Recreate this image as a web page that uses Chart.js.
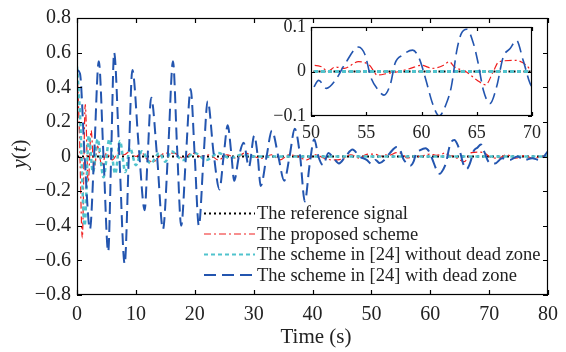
<!DOCTYPE html>
<html>
<head>
<meta charset="utf-8">
<script src="https://cdn.jsdelivr.net/npm/chart.js@4.4.1/dist/chart.umd.min.js"></script>
<style>
  body { margin: 0; background: #fff; }
  #wrap { position: relative; width: 566px; height: 352px; }
  #main { position: absolute; left: 0; top: 0; }
  #inset { position: absolute; left: 262px; top: 8px; }
</style>
</head>
<body>
<div id="wrap">
  <canvas id="main" width="566" height="352"></canvas>
  <canvas id="inset" width="290" height="140"></canvas>
</div>
<script>
// --- data ---
const labels = [
  'The reference signal',
  'The proposed scheme',
  'The scheme in [24] without dead zone',
  'The scheme in [24] with dead zone'
];

const refT = [0, 80];
const refY = [0, 0];

const propT = [0, 0.4, 0.9, 1.4, 1.9, 2.4, 2.9, 3.5, 4.2, 5, 6, 7, 8, 9, 10, 11, 12, 13, 14, 15,
  16.5, 18, 19.5, 21, 22.5, 24, 25.5, 27, 28.5, 30, 31.5, 33, 34.5, 36, 37.5, 39, 40.5, 42,
  43.5, 45, 46.5, 48, 49, 50, 51, 51.5, 52.2, 53, 54.3, 55.3, 56, 57, 58, 59, 60, 61, 62,
  62.5, 63, 64, 65, 65.8, 66.5, 67, 68.5, 69.5, 70, 71.5, 73, 74.5, 76, 77.5, 79, 80];
const propY = [0.52, 0.15, -0.47, 0.30, -0.15, 0.15, -0.08, 0.06, -0.05, 0.02, -0.02, 0.02, 0.01,
  0.03, 0, 0.02, -0.02, -0.03, 0, 0.02, 0.02, -0.01, 0.02, 0, 0.01, -0.02, 0.01, -0.01, 0.02,
  0, -0.01, 0.01, -0.02, 0.01, 0, -0.02, 0.01, -0.01, -0.02, -0.015, 0.01, -0.01, 0.01, 0.014,
  0.01, 0, 0.01, 0.007, 0.022, 0.014, -0.008, -0.004, 0, 0.007, 0.014, 0.007, 0.014, 0.022,
  0.01, 0, -0.019, -0.03, 0, 0.022, 0.025, 0.014, 0, -0.01, 0.01, -0.01, 0.005, -0.01, 0, -0.005];

const noDzT = [0, 0.5, 1.3, 2, 2.7, 3.5, 4.5, 5.5, 6.5, 7.3, 8.2, 9, 10, 11, 12.5, 14, 15, 16,
  18, 20, 22, 24, 26, 28, 30, 80];
const noDzY = [0.52, 0.25, -0.40, 0.12, -0.09, 0.10, -0.12, 0.10, -0.10, 0.09, -0.09, 0.05,
  -0.05, 0.03, -0.04, 0.02, -0.03, 0.03, -0.02, 0.02, -0.02, 0.02, -0.01, 0.01, 0, 0];

const dzT = [0, 0.5, 1.3, 2.2, 2.9, 3.7, 4.5, 5.3, 5.8, 6.3, 7.2, 8.1, 8.8, 9.4, 10.5, 11.5,
  12, 12.6, 13.6, 14.6, 15.5, 16.3, 17, 17.7, 18.5, 19.3, 20, 20.7, 21.5, 22.2, 23.2, 24.2,
  24.9, 25.6, 26.2, 26.7, 27.5, 28.3, 29.2, 30.1, 30.7, 31.2, 32.2, 33.1, 34.2, 35.2, 36.1,
  37, 37.9, 38.7, 39.5, 40.3, 41, 41.8, 42.7, 43.6, 44.5, 45.6, 46.8, 48, 49.2,
  50, 50.7, 51.4, 52.2, 53.1, 54.3, 54.9, 55.4, 56.1, 56.6, 57.2, 57.6, 58.3, 59.2, 59.8,
  60.4, 61, 61.6, 62.2, 62.7, 63.2, 63.6, 64.1, 64.7, 65.1, 65.6, 66.2, 66.8, 67.4, 68,
  68.6, 69.2, 70, 71, 72.2, 73.5, 74.8, 76, 77.3, 78.6, 80];
const dzY = [0.50, 0.48, 0, -0.42, 0, 0.55, 0, -0.55, 0, 0.60, 0, -0.62, 0, 0.50, 0.05, -0.31,
  0, 0.34, 0, -0.42, 0.05, 0.55, 0.05, -0.40, 0, 0.39, 0, -0.40, 0, 0.32, 0.02, -0.19,
  0, 0.18, 0.02, -0.14, 0, 0.08, -0.06, 0.12, 0, -0.17, 0, 0.15, 0, -0.14, 0,
  0.16, 0, -0.26, -0.05, 0.10, 0, -0.05, 0.02, -0.01, -0.04, 0, 0.04, 0, -0.02,
  -0.042, -0.02, -0.038, -0.02, 0.018, 0.055, 0.037, -0.012, -0.042, -0.053, -0.027, 0.018,
  0.037, 0.048, 0.029, -0.019, -0.072, -0.1, -0.075, -0.034, 0.048, 0.085, 0.095, 0.063,
  0.022, -0.042, -0.072, -0.034, 0.033, 0.051, 0.07, 0.025, -0.034, -0.04, -0.01, -0.02,
  0, -0.02, -0.01, -0.02, 0.03];

const xTicksMain = [0, 10, 20, 30, 40, 50, 60, 70, 80];
const yTicksMain = [-0.8, -0.6, -0.4, -0.2, 0, 0.2, 0.4, 0.6, 0.8];
const xTicksInset = [50, 55, 60, 65, 70];
const yTicksInset = [-0.1, 0, 0.1];

const SERIF = '"Liberation Serif", "Times New Roman", serif';
Chart.defaults.font.family = SERIF;
Chart.defaults.color = '#222';

function pts(t, y) {
  return t.map((v, i) => ({ x: v, y: y[i] }));
}

// y labels: 0.8, 0, −0.2 ...
function fmtY(v) {
  if (Math.abs(v) < 1e-9) return '0';
  return v.toFixed(1).replace('-', '\u2212');
}
function fmtX(v) {
  return String(Math.round(v));
}

function makeDatasets(inset) {
  return [
    { label: labels[0], data: pts(refT, refY), borderColor: '#000', borderWidth: 2.2,
      borderDash: [2, 3], order: 4 },
    { label: labels[1], data: pts(propT, propY), borderColor: 'rgb(240,30,30)',
      borderWidth: 1.2, borderDash: [7, 3, 2, 3], order: 3 },
    { label: labels[2], data: pts(noDzT, noDzY), borderColor: 'rgb(80,195,205)',
      borderWidth: inset ? 3 : 2.5, borderDash: [4, 3], order: 2 },
    { label: labels[3], data: pts(dzT, dzY), borderColor: 'rgb(35,85,175)',
      borderWidth: inset ? 1.6 : 2, borderDash: [12, 6], order: 1 }
  ];
}

// MATLAB-like box with inward ticks on all four sides
const boxTicks = {
  id: 'boxTicks',
  beforeDraw(chart, args, opts) {
    if (!opts.fill) return;
    const a = chart.chartArea, ctx = chart.ctx;
    ctx.save();
    ctx.fillStyle = '#fff';
    ctx.fillRect(a.left, a.top, a.right - a.left, a.bottom - a.top);
    ctx.restore();
  },
  afterDraw(chart, args, opts) {
    const { ctx, chartArea: a, scales: { x, y } } = chart;
    const len = opts.len || 5;
    ctx.save();
    ctx.strokeStyle = '#000';
    ctx.lineWidth = 1.2;
    ctx.beginPath();
    x.ticks.forEach(t => {
      const px = Math.round(x.getPixelForValue(t.value)) + 0.5;
      ctx.moveTo(px, a.bottom); ctx.lineTo(px, a.bottom - len);
      ctx.moveTo(px, a.top); ctx.lineTo(px, a.top + len);
    });
    y.ticks.forEach(t => {
      const py = Math.round(y.getPixelForValue(t.value)) + 0.5;
      ctx.moveTo(a.left, py); ctx.lineTo(a.left + len, py);
      ctx.moveTo(a.right, py); ctx.lineTo(a.right - len, py);
    });
    ctx.stroke();
    ctx.strokeRect(a.left + 0.5, a.top + 0.5, a.right - a.left - 1, a.bottom - a.top - 1);
    ctx.restore();
  }
};

// legend without box, drawn inside the plot
const plotLegend = {
  id: 'plotLegend',
  afterDatasetsDraw(chart, args, opts) {
    const ctx = chart.ctx;
    ctx.save();
    ctx.font = opts.font;
    ctx.textBaseline = 'middle';
    ctx.fillStyle = '#222';
    chart.data.datasets.forEach((ds, i) => {
      const yy = opts.rows[i];
      ctx.strokeStyle = ds.borderColor;
      ctx.lineWidth = Math.min(ds.borderWidth, 2);
      ctx.setLineDash(ds.borderDash || []);
      ctx.beginPath();
      ctx.moveTo(opts.x0, yy);
      ctx.lineTo(opts.x1, yy);
      ctx.stroke();
      ctx.fillText(ds.label, opts.x1 + 2, yy + 1);
    });
    ctx.restore();
  }
};

// axis titles, y(t) with italic letters
const axisTitles = {
  id: 'axisTitles',
  afterDraw(chart) {
    const ctx = chart.ctx;
    ctx.save();
    ctx.fillStyle = '#222';
    ctx.textBaseline = 'middle';
    ctx.textAlign = 'center';
    ctx.font = '21px ' + SERIF;
    ctx.fillText('Time (s)', 316, 337);

    const parts = [['y', 'italic '], ['(', ''], ['t', 'italic '], [')', '']];
    let w = 0;
    parts.forEach(p => { ctx.font = p[1] + '21px ' + SERIF; w += ctx.measureText(p[0]).width; });
    ctx.translate(20, 154);
    ctx.rotate(-Math.PI / 2);
    ctx.textAlign = 'left';
    let xx = -w / 2;
    parts.forEach(p => {
      ctx.font = p[1] + '21px ' + SERIF;
      ctx.fillText(p[0], xx, 0);
      xx += ctx.measureText(p[0]).width;
    });
    ctx.restore();
  }
};

function axisOpts(min, max, ticks, size, pad, fmt, fit) {
  return {
    type: 'linear', min: min, max: max,
    afterBuildTicks: s => { s.ticks = ticks.map(v => ({ value: v })); },
    afterFit: fit,
    grid: { display: false, drawTicks: false },
    border: { display: false },
    ticks: { font: { size: size }, padding: pad, callback: fmt, maxRotation: 0, color: '#222' }
  };
}

new Chart(document.getElementById('main'), {
  type: 'line',
  data: { datasets: makeDatasets(false) },
  plugins: [boxTicks, plotLegend, axisTitles],
  options: {
    responsive: false,
    animation: false,
    devicePixelRatio: 1,
    layout: { padding: { left: 0, right: 16, top: 14, bottom: 0 } },
    elements: { point: { radius: 0 }, line: { cubicInterpolationMode: 'monotone' } },
    scales: {
      x: axisOpts(0, 80, xTicksMain, 20, 8, fmtX, s => { s.height = 57; }),
      y: axisOpts(-0.8, 0.8, yTicksMain, 20, 6, fmtY, s => { s.width = 77; })
    },
    plugins: {
      legend: { display: false },
      tooltip: { enabled: false },
      boxTicks: { len: 5 },
      plotLegend: { font: '18.5px ' + SERIF, x0: 204, x1: 255, rows: [213.5, 234, 254.5, 275] }
    }
  }
});

new Chart(document.getElementById('inset'), {
  type: 'line',
  data: { datasets: makeDatasets(true) },
  plugins: [boxTicks],
  options: {
    responsive: false,
    animation: false,
    devicePixelRatio: 1,
    layout: { padding: { left: 0, right: 20, top: 19, bottom: 0 } },
    elements: { point: { radius: 0 }, line: { cubicInterpolationMode: 'monotone' } },
    scales: {
      x: axisOpts(50, 70, xTicksInset, 18, 6, fmtX, s => { s.height = 32; }),
      y: axisOpts(-0.1, 0.1, yTicksInset, 18, 5, fmtY, s => { s.width = 49; })
    },
    plugins: {
      legend: { display: false },
      tooltip: { enabled: false },
      boxTicks: { len: 4, fill: true }
    }
  }
});
</script>
</body>
</html>
